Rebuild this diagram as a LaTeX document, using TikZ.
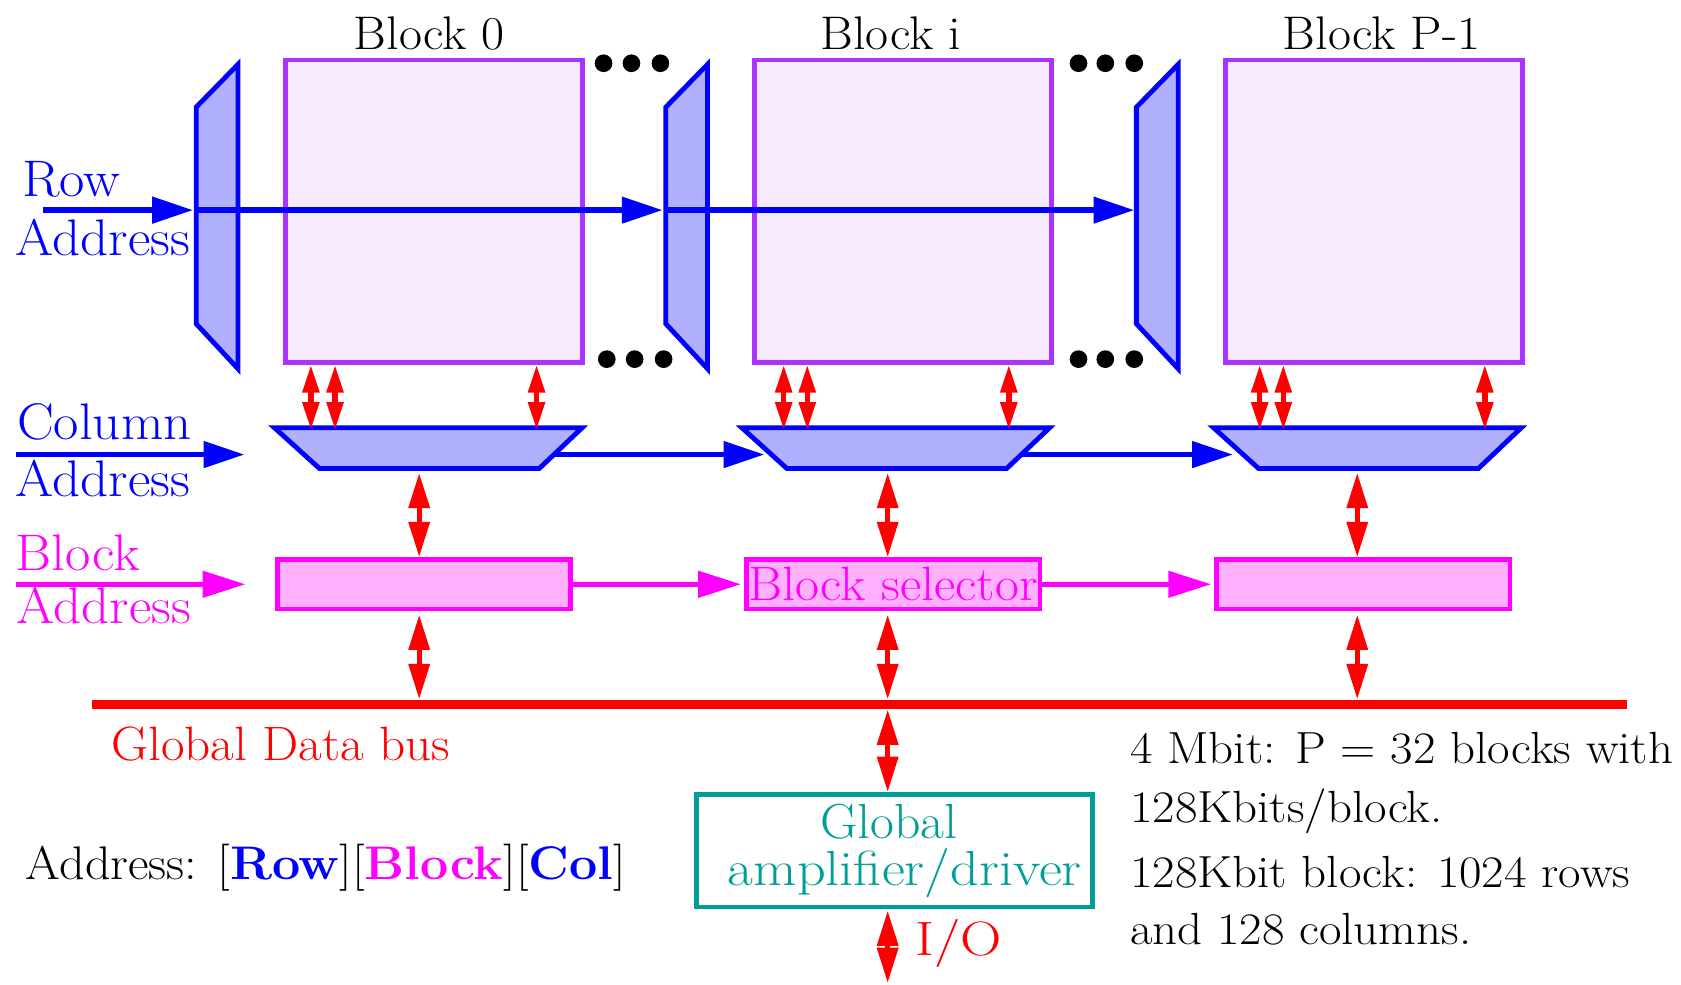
\documentclass[tikz,border=0pt]{standalone}
\usepackage{graphicx}
\usetikzlibrary{arrows.meta}
\definecolor{decfill}{RGB}{176,176,255}
\definecolor{blkdraw}{RGB}{170,51,255}
\definecolor{blkfill}{RGB}{246,234,255}
\definecolor{selfill}{RGB}{255,176,255}
\definecolor{tealx}{RGB}{0,158,152}
\definecolor{magx}{RGB}{255,0,255}
\definecolor{bluex}{RGB}{0,0,255}
\definecolor{redx}{RGB}{255,0,0}
\newcommand{\hstr}[2]{\scalebox{#1}[1]{#2}}
\begin{document}
\begin{tikzpicture}[x=1pt,y=-1pt,
  lbl/.style={inner sep=0pt, anchor=base west, font=\fontsize{48}{50}\selectfont},
  txt/.style={inner sep=0pt, font=\fontsize{44}{50}\selectfont},
  ttl/.style={inner sep=0pt, anchor=base, font=\fontsize{44}{50}\selectfont},
  rtxt/.style={inner sep=0pt, anchor=base west, font=\fontsize{42}{50}\selectfont},
  decoder/.style={draw=bluex, fill=decfill, line width=4.5pt, line join=miter},
  memblk/.style={draw=blkdraw, fill=blkfill, line width=4.5pt, minimum width=277pt, minimum height=282pt, inner sep=0pt},
  selbox/.style={draw=magx, fill=selfill, line width=4.5pt, minimum width=274pt, minimum height=46pt, inner sep=0pt},
  bluearr/.style={bluex, line width=5pt, -{Triangle[length=38pt,width=24pt]}},
  magarr/.style={magx, line width=5pt, -{Triangle[length=40pt,width=24pt]}},
  dblS/.style={redx, line width=5pt, {Triangle[length=26pt,width=15pt]}-{Triangle[length=26pt,width=15pt]}},
  dblL/.style={redx, line width=5pt, {Triangle[length=33pt,width=19pt]}-{Triangle[length=33pt,width=19pt]}},
  bigdot/.style={circle, fill=black, inner sep=0pt, minimum size=16.5pt},
  amptxt/.style={inner sep=0pt, anchor=base, text=tealx, font=\fontsize{46}{42}\selectfont},
]
\useasboundingbox (0,0) rectangle (1568,918);

% ---- titles
\node[ttl] (t0) at (400.5,46.6) {\hstr{1.06}{Block 0}};
\node[ttl] (t1) at (831,46.6) {\hstr{1.06}{Block i}};
\node[ttl] (t2) at (1288.6,46.6) {\hstr{1.06}{Block P-1}};

% ---- row decoders
\draw[decoder] (183,100) -- (222,60) -- (222,344) -- (183,302) -- cycle;
\draw[decoder] (621,100) -- (660,60) -- (660,344) -- (621,302) -- cycle;
\draw[decoder] (1060,100) -- (1099,60) -- (1099,344) -- (1060,302) -- cycle;
\coordinate (dec0in) at (183,196);
\coordinate (dec1in) at (621,196);
\coordinate (dec2in) at (1060,196);

% ---- memory blocks
\node[memblk] (blk0) at (404.5,197) {};
\node[memblk] (blk1) at (842,197) {};
\node[memblk] (blk2) at (1281.5,197) {};

% ---- dots
\node[bigdot] (d1) at (563,59) {};
\node[bigdot] (d2) at (589,59) {};
\node[bigdot] (d3) at (616,59) {};
\node[bigdot] (d4) at (1006,59) {};
\node[bigdot] (d5) at (1031,59) {};
\node[bigdot] (d6) at (1058,59) {};
\node[bigdot] (d7) at (566,335) {};
\node[bigdot] (d8) at (592,335) {};
\node[bigdot] (d9) at (619,335) {};
\node[bigdot] (d10) at (1006,335) {};
\node[bigdot] (d11) at (1031,335) {};
\node[bigdot] (d12) at (1058,335) {};

% ---- row address
\node[lbl, text=bluex] (rowT) at (20.8,183.5) {\hstr{1.07}{Row}};
\node[lbl, text=bluex] (rowA) at (14.6,238) {\hstr{1.07}{Address}};
\coordinate (rowstart) at (40,196);
\draw[bluearr, shorten >=3pt] (rowstart) -- (dec0in);
\draw[bluearr, shorten >=3pt] (dec0in) -- (dec1in);
\draw[bluearr, shorten >=2pt] (dec1in) -- (dec2in);

% ---- column muxes
\draw[decoder] (256,399) -- (543,399) -- (503,437) -- (298,437) -- cycle;
\draw[decoder] (692,399) -- (979,399) -- (939,437) -- (734,437) -- cycle;
\draw[decoder] (1132,399) -- (1419,399) -- (1379,437) -- (1174,437) -- cycle;
\coordinate (colstart) at (15,424);
\coordinate (colend) at (228,424);
\coordinate (m0out) at (516,424);
\coordinate (m1in) at (713,424);
\coordinate (m1out) at (952,424);
\coordinate (m2in) at (1150,424);
\node[lbl, text=bluex] (colT) at (15.8,409.8) {\hstr{1.07}{Column}};
\node[lbl, text=bluex] (colA) at (14.6,463.5) {\hstr{1.07}{Address}};
\draw[bluearr] (colstart) -- (colend);
\draw[bluearr] (m0out) -- (m1in);
\draw[bluearr] (m1out) -- (m2in);

% ---- block -> mux double arrows
\coordinate (a01) at (290,401);
\coordinate (a02) at (312.5,401);
\coordinate (a03) at (500.5,401);
\coordinate (a11) at (731,401);
\coordinate (a12) at (753,401);
\coordinate (a13) at (941,401);
\coordinate (a21) at (1175,401);
\coordinate (a22) at (1197,401);
\coordinate (a23) at (1385,401);
\foreach \b/\a in {blk0/a01,blk0/a02,blk0/a03,blk1/a11,blk1/a12,blk1/a13,blk2/a21,blk2/a22,blk2/a23}
  \draw[dblS] (\b.south -| \a) -- (\a);

% ---- block selectors
\node[selbox] (sel0) at (395.5,545) {};
\node[selbox, text=magx, font=\fontsize{45}{50}\selectfont] (sel1) at (833,545) {\hstr{1.08}{Block selector}};
\node[selbox] (sel2) at (1271.5,545) {};
\node[lbl, text=magx] (blkT) at (14.3,531.7) {\hstr{1.07}{Block}};
\node[lbl, text=magx] (blkA) at (15.3,582) {\hstr{1.07}{Address}};
\coordinate (bstart) at (15,545);
\coordinate (bend) at (229,545);
\draw[magarr] (bstart) -- (bend);
\draw[magarr, shorten >=2.5pt] (sel0.east) -- (sel1.west);
\draw[magarr, shorten >=2.5pt] (sel1.east) -- (sel2.west);

% ---- mux -> selector -> bus
\node[fill=redx, minimum width=1432pt, minimum height=9pt, inner sep=0pt] (bus) at (802,657) {};
\coordinate (mx0) at (391,441);
\coordinate (mx1) at (828,441);
\coordinate (mx2) at (1266,441);
\foreach \m/\s in {mx0/sel0,mx1/sel1,mx2/sel2}{
  \draw[dblL] (\m) -- (\m |- \s.north);
  \draw[dblL, shorten <=3pt] (\m |- \s.south) -- (\m |- bus.north);
}
\node[inner sep=0pt, anchor=base west, text=redx, font=\fontsize{45}{50}\selectfont] (busT) at (103.7,709) {\hstr{1.06}{Global Data bus}};

% ---- global amplifier
\node[draw=tealx, line width=4.5pt, minimum width=369pt, minimum height=105pt, inner sep=0pt] (amp) at (834.5,793.5) {};
\node[amptxt] (ampT1) at (829,782.5) {\hstr{1.05}{Global}};
\node[amptxt] (ampT2) at (844,826) {\hstr{1.14}{amplifier/driver}};
\coordinate (iox) at (828,0);
\coordinate (ioend) at (828,917);
\draw[dblL] (iox |- bus.south) -- (iox |- amp.north);
\draw[dblL, shorten <=1pt] (iox |- amp.south) -- (ioend);
\node[inner sep=0pt, anchor=base west, text=redx, font=\fontsize{45}{50}\selectfont] (io) at (854,891) {\hstr{1.19}{I/O}};

% ---- notes
\node[txt, anchor=base west] (addr) at (24,820) {\hstr{1.063}{Address: [\textbf{\textcolor{bluex}{Row}}][\textbf{\textcolor{magx}{Block}}][\textbf{\textcolor{bluex}{Col}}]}};
\node[rtxt] (r1) at (1054,712) {\hstr{1.086}{4 Mbit: P = 32 blocks with}};
\node[rtxt] (r2) at (1054,767) {\hstr{1.086}{128Kbits/block.}};
\node[rtxt] (r3) at (1054,828) {\hstr{1.086}{128Kbit block: 1024 rows}};
\node[rtxt] (r4) at (1054,881) {\hstr{1.086}{and 128 columns.}};
\end{tikzpicture}
\end{document}
